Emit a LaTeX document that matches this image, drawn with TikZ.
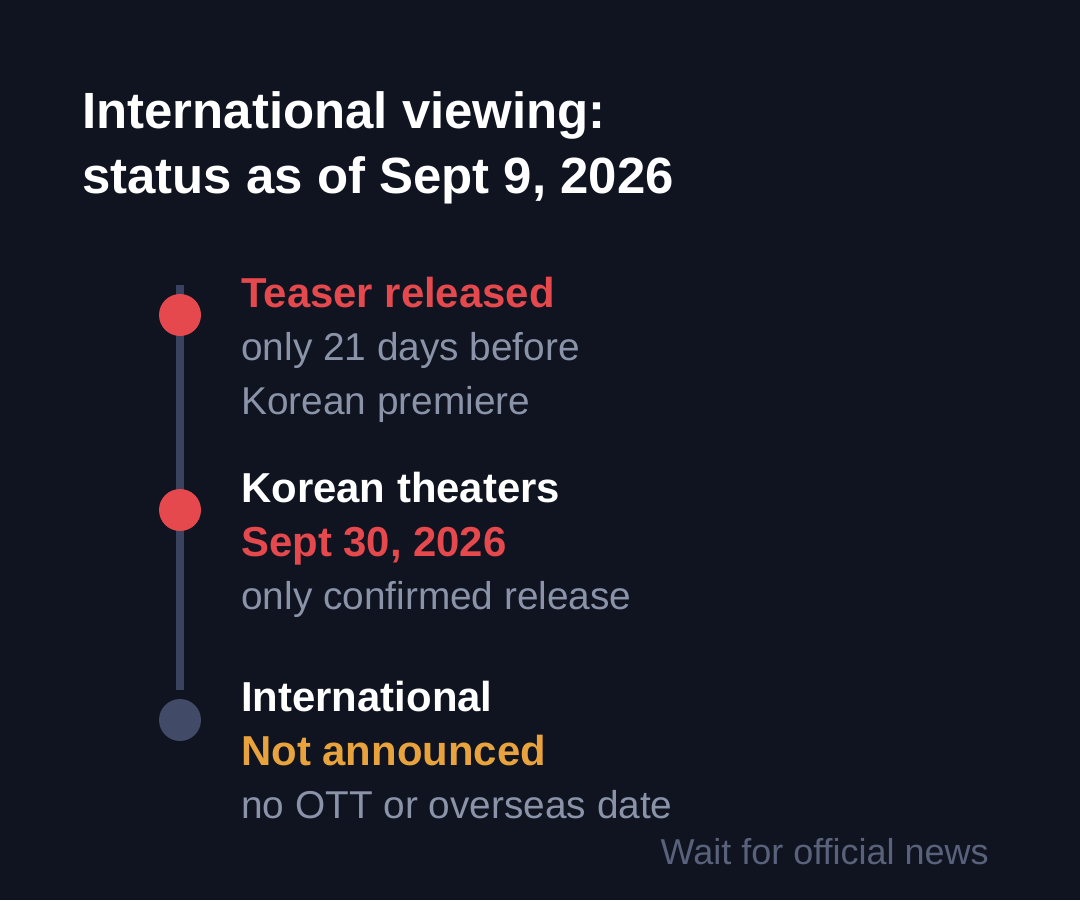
\documentclass[tikz,border=0pt]{standalone}
\usepackage{fontspec}
\setmainfont{Liberation Sans}

\definecolor{bgnavy}{HTML}{0F1420}
\definecolor{railgray}{HTML}{394360}
\definecolor{dotred}{HTML}{E5484D}
\definecolor{dotgray}{HTML}{414A66}
\definecolor{notegray}{HTML}{8A93A8}
\definecolor{waitgray}{HTML}{59627A}
\definecolor{warnorange}{HTML}{E8A33D}

\begin{document}
\begin{tikzpicture}[x=0.75pt,y=-0.75pt,
    title/.style={anchor=base west,inner sep=0pt,text=white,font=\fontsize{38.2}{45}\selectfont\bfseries},
    head/.style={anchor=base west,inner sep=0pt,font=\fontsize{31.4}{36}\selectfont\bfseries},
    note/.style={anchor=base west,inner sep=0pt,text=notegray,font=\fontsize{29.1}{34}\selectfont}]
        % the background
        \fill[bgnavy] (0,0) rectangle (1080,900);
        \useasboundingbox (0,0) rectangle (1080,900);

        % the title
        \node[title] (t1) at (82,128) {International viewing:};
        \node[title] (t2) at (82,193) {status as of Sept 9, 2026};

        % the rail and its dots
        \coordinate (top) at (180,285);
        \coordinate (bot) at (180,690);
        \draw[railgray, line width=6pt] (top) -- (bot);
        \fill[dotred] (180,315) circle (21);
        \fill[dotred] (180,510) circle (21);
        \fill[dotgray] (180,720) circle (21);

        % the texts of each step
        \node[head,text=dotred] (s1) at (241,307) {Teaser released};
        \node[note] (s1a) at (241,360) {only 21 days before};
        \node[note] (s1b) at (241,414) {Korean premiere};

        \node[head,text=white] (s2) at (241,502) {Korean theaters};
        \node[head,text=dotred] (s2a) at (241,556) {Sept 30, 2026};
        \node[note] (s2b) at (241,609) {only confirmed release};

        \node[head,text=white] (s3) at (241,711) {International};
        \node[head,text=warnorange] (s3a) at (241,765) {Not announced};
        \node[note] (s3b) at (241,818) {no OTT or overseas date};

        % the footer
        \node[anchor=base east,inner sep=0pt,text=waitgray,font=\fontsize{27}{32}\selectfont] (wait) at (989,864) {Wait for official news};

    \end{tikzpicture}
\end{document}
